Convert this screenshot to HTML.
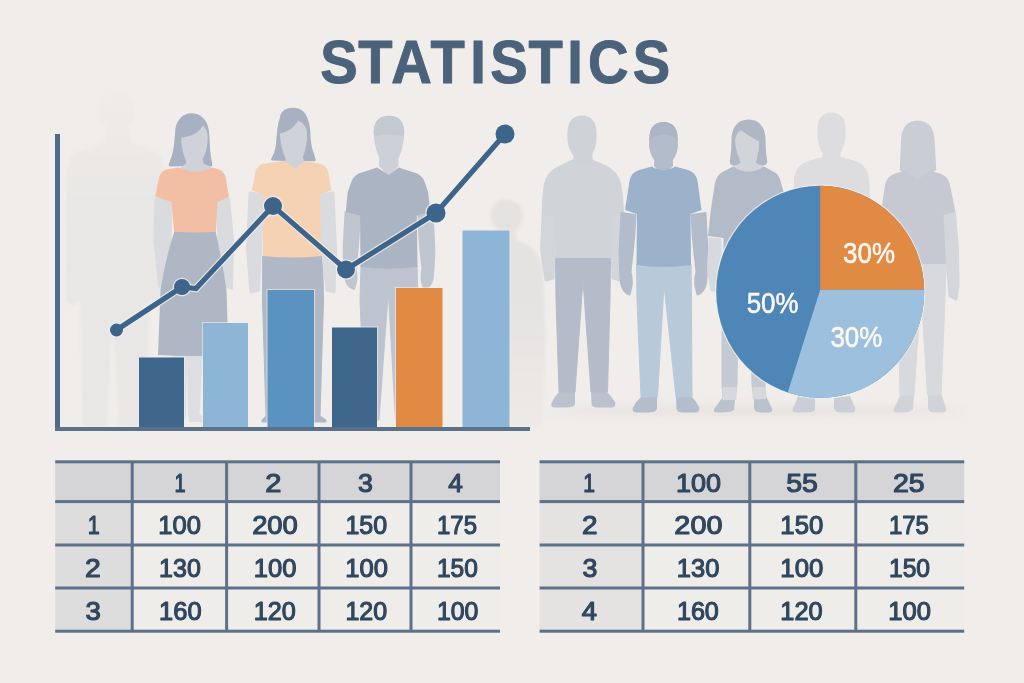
<!DOCTYPE html>
<html lang="en">
<head>
<meta charset="utf-8">
<title>Statistics</title>
<style>
html,body{margin:0;padding:0;background:#f0edea;}
body{width:1024px;height:683px;overflow:hidden;font-family:"Liberation Sans",sans-serif;}
svg{display:block;}
.t{font-family:"Liberation Sans",sans-serif;font-weight:700;font-size:61px;fill:#4b627b;stroke:#4b627b;stroke-width:1px;stroke-linejoin:round;}
.n{font-family:"Liberation Sans",sans-serif;font-size:26.6px;fill:#30475f;stroke:#30475f;stroke-width:1.2px;stroke-linejoin:round;text-anchor:start;}
.p{font-family:"Liberation Sans",sans-serif;font-size:28.8px;fill:#fcf8f2;stroke:#fcf8f2;stroke-width:.55px;text-anchor:middle;}
</style>
</head>
<body>
<svg width="1024" height="683" viewBox="0 0 1024 683">
<rect width="1024" height="683" fill="#f0edea"/>

<g id="left-people">
<defs><filter id="b1" x="-5%" y="-5%" width="110%" height="110%"><feGaussianBlur stdDeviation="0.55"/></filter><filter id="b3" x="-20%" y="-20%" width="140%" height="140%"><feGaussianBlur stdDeviation="1.4"/></filter><filter id="b6" x="-20%" y="-60%" width="140%" height="220%"><feGaussianBlur stdDeviation="4"/></filter></defs>
<ellipse cx="755" cy="411" rx="210" ry="6" fill="#e7e4e1" filter="url(#b6)"/>
<g filter="url(#b3)">
<linearGradient id="fg" gradientUnits="userSpaceOnUse" x1="0" y1="95" x2="0" y2="200"><stop offset="0" stop-color="#eeebe8"/><stop offset="1" stop-color="#e9e7e5"/></linearGradient>
<ellipse cx="117" cy="112" rx="17" ry="19" fill="url(#fg)"/>
<path d="M106,128 L128,128 L130,143 L158,153 Q164,158 165,176 L168,300 L158,306 L150,300 L147,426 L119,426 L113,320 L107,426 L82,426 L80,300 L74,306 L65,300 L67,176 Q68,158 74,153 L104,143 Z" fill="url(#fg)"/>
<linearGradient id="fg5" gradientUnits="userSpaceOnUse" x1="0" y1="300" x2="0" y2="425"><stop offset="0" stop-color="#e5e3e2"/><stop offset="1" stop-color="#ece9e6"/></linearGradient>
<ellipse cx="506.5" cy="216" rx="16.5" ry="16.5" fill="#e5e3e2"/>
<path d="M498,228 L515,228 L517,240 Q538,246 543,270 L546,340 L542,426 L480,426 L474,270 Q478,246 496,240 Z" fill="url(#fg5)"/>
</g>
<g filter="url(#b1)">
<path d="M173.0,350.0 L186.0,350.0 L185.0,418.0 L176.0,418.0Z" fill="#dcdee1" stroke="#dcdee1" stroke-width="2" stroke-linejoin="round"/>
<path d="M188.0,350.0 L202.0,350.0 L198.5,414.0 L203.0,419.5 L203.0,421.0 L190.0,421.0 L189.0,414.0Z" fill="#dcdee1" stroke="#dcdee1" stroke-width="2" stroke-linejoin="round"/>
<path d="M156.0,199.0 L171.0,201.0 L170.0,240.0 L167.0,284.0 L159.5,286.0 L155.0,240.0Z" fill="#d9dbdf" stroke="#d9dbdf" stroke-width="3.0" stroke-linejoin="round"/>
<path d="M228.5,199.0 L217.5,201.0 L219.0,240.0 L224.0,286.0 L231.5,288.0 L232.5,240.0Z" fill="#d9dbdf" stroke="#d9dbdf" stroke-width="3.0" stroke-linejoin="round"/>
<path d="M174.5,231 L215.5,231 Q222,260 226.5,290 L228.5,355 Q193,357 158,355 L160.5,290 Q165,260 174.5,231 Z" fill="#b0b7c4"/>
<path d="M191.4,113.3 C183,113.3 176.5,120 175.3,129.4 C174.5,140 174,150 171.4,157 L168.8,164 Q168.3,166.8 171,166.6 L185,166 L200,164 L210,166.5 Q212.8,167 212.3,164.5 L211,157 C209.5,148 210,138 208.7,129.4 C207,119 200,113.3 191.4,113.3 Z" fill="#a8b1c1"/>
<path d="M181.2,137.5 C190,137 199,133 202.8,125.5 C206,128 207.7,132 207.7,137 C207.7,146 206,153 202.8,159 L203.5,163.5 L212,168 L196,176 L180,168 L186,163.5 L186.1,160.8 C183,154 181.5,147 181.2,137.5 Z" fill="#cfd3d9"/>
<path d="M179,167.6 Q196,176 212.5,167.6 L219,169.5 Q224.5,171.5 225.8,178 L229,197 L217.5,202 L216,231.8 Q195,233 174,231.8 L171.5,202 L155.3,196.5 L159,178 Q160.5,171.5 166,169.5 Z" fill="#f2bfa5"/>
<path d="M262.7,256.0 L322.5,256.0 L323.5,300.0 L320.0,416.0 L326.0,420.0 L326.0,422.0 L262.0,422.0 L262.0,420.0 L266.0,416.0 L262.5,300.0Z" fill="#b0b7c5" stroke="#b0b7c5" stroke-width="1.0" stroke-linejoin="round"/>
<path d="M250.0,193.0 L262.7,195.0 L260.5,250.0 L258.5,290.0 L251.0,292.0 L247.5,250.0Z" fill="#d9dbdf" stroke="#d9dbdf" stroke-width="3.0" stroke-linejoin="round"/>
<path d="M333.0,193.0 L320.0,195.0 L322.5,250.0 L327.0,290.0 L334.0,292.0 L335.5,250.0Z" fill="#d9dbdf" stroke="#d9dbdf" stroke-width="3.0" stroke-linejoin="round"/>
<path d="M293,107.8 C286,107.8 281,111 280,117 C277.5,124 277,132 276.4,139.3 C276,146 275,150 274,153 L271.3,158.5 Q270.5,160.5 273,160.5 L286,161 L302,161 L313.5,161.3 Q316.3,161.5 315.7,159.5 L313.7,153 C311,146 311,140 310.7,139.3 C310.5,132 310.3,124 306.5,116 C304,110.5 299,107.8 293,107.8 Z" fill="#a8b1c1"/>
<path d="M279.8,133.6 C288,132 294.5,127.5 298,120.6 C303,123 306.5,127 306.8,131.4 C307.3,138 306.8,143 305.8,147.1 C305,151 304,154.5 302.9,156.9 L303.5,160.5 L306,162 L295,172 L283,162 L285.5,160.5 L285.2,157.9 C282.5,151 280.5,144 279.8,133.6 Z" fill="#cfd3d9"/>
<path d="M284.5,160.8 L295,168.8 L304.5,160.8 L320,163.8 Q326.5,165.5 328,171 L331.5,190.3 L319.6,194.5 L322,256 Q292,259 262.7,256 L263,194.5 L251.9,190.3 L255.5,171 Q257,165.5 263.5,163.8 Z" fill="#f6d2b4"/>
<path d="M361.0,266.0 L417.0,266.0 L418.0,300.0 L413.0,420.0 L395.5,420.0 L388.3,292.0 L379.0,420.0 L365.0,420.0 L360.0,300.0Z" fill="#bdc4cf" stroke="#bdc4cf" stroke-width="1.0" stroke-linejoin="round"/>
<path d="M345.5,212 L359.5,214 Q359,240 356.5,260 L355.5,268 Q357,276 356,282 L354,289 Q347,287 345.3,278 Q343.3,258 343.8,245 Z" fill="#c0c6cf" stroke="#c0c6cf" stroke-width="2" stroke-linejoin="round"/>
<path d="M432.5,212 L418.5,214 Q419,240 421.5,260 L422.5,268 Q421,276 422,282 L424,289 Q431,287 432.7,278 Q434.7,258 434.2,245 Z" fill="#c0c6cf" stroke="#c0c6cf" stroke-width="2" stroke-linejoin="round"/>
<path d="M379.5,150 L398,150 L398.5,166 L389,177 L379,166 Z" fill="#cdd0d6"/>
<path d="M377.1,167.5 L388.9,175 L398.7,167.5 L416.4,173.3 Q422.5,176 424.5,181.5 L428.1,192.2 L430.5,212 L416.8,215.5 L417.5,267 Q389,270 360.5,267 L360,215.5 L345.8,212 L347.7,192.2 L351.5,181.5 Q353.5,176 359.4,173.3 Z" fill="#abb4c3"/>
<path d="M389,115.7 Q374.5,116 373.8,131 L374.2,140 Q375.5,149 378.5,156 Q383,165 389,165.5 Q395,165 399.5,156 Q402.5,149 403.8,140 L404.2,131 Q403.5,116 389,115.7 Z" fill="#cdd0d6"/>
<path d="M389,115.7 Q374.5,116 373.8,131 L374,136.5 Q381,134 389,134.5 Q397,134 404,136.5 L404.2,131 Q403.5,116 389,115.7 Z" fill="#c5c9d0"/>
</g>
</g>
<g id="right-people">
<g filter="url(#b1)">
<path d="M559,388 L575,388 L575,404 Q574,407.5 566,407.5 L554,407.5 Q550,407 552,402 Q555,396 559,392 Z" fill="#bbc1cd"/>
<path d="M591,388 L607,388 L607,392 Q612,397 615,402 Q616.5,407 612,407.5 L598,407.5 Q592,407.5 591.5,404 Z" fill="#bbc1cd"/>
<path d="M555.5,257.0 L610.5,257.0 L610.0,300.0 L607.5,392.0 L591.0,392.0 L583.0,280.0 L575.0,392.0 L559.0,392.0 L556.0,300.0Z" fill="#b5bcc9" stroke="#b5bcc9" stroke-width="1.0" stroke-linejoin="round"/>
<path d="M543.5,208.0 L554.0,209.0 L554.0,250.0 L553.0,278.0 L546.0,280.0 L541.5,250.0Z" fill="#d2d5da" stroke="#d2d5da" stroke-width="3.0" stroke-linejoin="round"/>
<path d="M622.5,208.0 L612.0,209.0 L612.0,250.0 L613.0,278.0 L620.0,280.0 L624.5,250.0Z" fill="#d2d5da" stroke="#d2d5da" stroke-width="3.0" stroke-linejoin="round"/>
<path d="M572.5,159.5 L592.5,159.5 L606.5,165.7 Q613,169 616.4,173.6 Q620,178 621.3,184.4 L623.2,198 L624,215 L611.5,216 L611,258 L555.5,258 L554.5,216 L541.8,215 L542.2,198 L543.7,184.4 Q545,178 548.6,173.6 Q552,169 559.4,165.7 Z" fill="#d0d3d8"/>
<rect x="573.5" y="145" width="19" height="20" rx="0" fill="#cfd2d7"/>
<path d="M582,115.5 Q568,116 567.5,132 L567.5,140 Q568.5,152 575,157 Q582,161 589,157 Q595.5,152 596.5,140 L596.5,132 Q596,116 582,115.5 Z" fill="#cfd2d7"/>
<path d="M641,394 L657,394 L657,409 Q656,412.5 648,412.5 L636,412.5 Q631.5,412 633,407.5 Q636,401 641,397 Z" fill="#b4bdcc"/>
<path d="M676,394 L692,394 L692,397 Q697,402 699,407.5 Q700,412 696,412.5 L683,412.5 Q677,412.5 676.5,409 Z" fill="#b4bdcc"/>
<path d="M636.5,264.0 L691.0,264.0 L691.5,300.0 L692.0,397.0 L676.0,397.0 L664.0,285.0 L657.5,397.0 L641.0,397.0 L637.0,300.0Z" fill="#b8c9da" stroke="#b8c9da" stroke-width="1.0" stroke-linejoin="round"/>
<path d="M621.5,213 L635.5,215 Q634.5,240 631.5,262 L630.5,272 Q632.5,280 631.5,286 L629.5,294.5 Q622.5,292 620.8,282 Q619.3,262 619.8,247 Z" fill="#b2bccb" stroke="#b2bccb" stroke-width="2" stroke-linejoin="round"/>
<path d="M705.5,213 L691.5,215 Q692.5,240 695.5,262 L696.5,272 Q694.5,280 695.5,286 L697.5,294.5 Q704.5,292 706.2,282 Q707.7,262 707.2,247 Z" fill="#b2bccb" stroke="#b2bccb" stroke-width="2" stroke-linejoin="round"/>
<path d="M655,150 L672.5,150 L673,166 L663.5,176 L654,166 Z" fill="#b3bccb"/>
<path d="M652,166.5 Q663.5,174 675,166.5 L688,170 Q696,172.5 697.5,181 L701.5,210 L690.5,214 L691,265 Q663,269 636.5,265 L637,214 L625,210 L629.5,181 Q631,172.5 639,170 Z" fill="#9cb1ca"/>
<path d="M663.5,122 Q650,122.5 649.5,137 L649,146 Q650.5,158 657,163 Q663.5,166.5 670,163 Q676.5,158 678,146 L677.5,137 Q677,122.5 663.5,122 Z" fill="#b3bccb"/>
<path d="M663.5,122 Q650,122.5 649.5,137 L649.3,142 Q652,135 663.5,134.5 Q675,135 677.7,142 L677.5,137 Q677,122.5 663.5,122 Z" fill="#abb5c5"/>
<path d="M722,398 L735,400 L734,410 Q730,412.5 722,412.5 L716,412.5 Q712.5,412 714.5,408.5 Q718,404 722,398 Z" fill="#bbc1cd"/>
<path d="M754,398 L766,396 Q770,404 772,408.5 Q773,412 769,412.5 L760,412.5 Q754.5,412 754,408 Z" fill="#bbc1cd"/>
<path d="M722.0,300.0 L738.0,300.0 L737.0,385.0 L735.0,400.0 L723.0,400.0 L722.0,385.0Z" fill="#c4c9d2" stroke="#c4c9d2" stroke-width="1.0" stroke-linejoin="round"/>
<path d="M750.0,300.0 L766.0,300.0 L765.0,385.0 L766.0,398.0 L754.0,400.0 L752.0,385.0Z" fill="#c4c9d2" stroke="#c4c9d2" stroke-width="1.0" stroke-linejoin="round"/>
<rect x="722.5" y="387" width="14" height="13" rx="0" fill="#d6d8dc"/>
<rect x="752.5" y="387" width="13.5" height="12" rx="0" fill="#d6d8dc"/>
<path d="M710.0,239.0 L720.0,240.0 L720.0,270.0 L718.0,290.0 L712.0,290.0 L708.5,270.0Z" fill="#d6d9dd" stroke="#d6d9dd" stroke-width="3.0" stroke-linejoin="round"/>
<path d="M748.5,119.5 Q733,120 731.5,138 Q731.5,152 729.8,161 Q729.5,165 733.5,165.5 L763.5,165.5 Q767.5,165 767.2,161 Q765.5,152 765.5,138 Q764,120 748.5,119.5 Z" fill="#afb6c4"/>
<path d="M735,140 Q737,131 741,130.5 Q749,136 759,141.5 Q759.5,150 757,158 L756,163 L765,167 L748.5,176 L732,167 L740.5,163 L739,158 Q735.5,150 735,140 Z" fill="#d1d4d9"/>
<path d="M733,166.5 Q748.5,177 764,166.5 L776.5,173.6 Q780,177 781.4,184.4 L784.4,194.2 L789.5,236 L778,238 L778,330 L724,330 L723.5,238 L708,236 L710.8,210 L714.7,184.4 Q716.5,176 721.6,172.6 Z" fill="#b4bbc8"/>
</g>
<g filter="url(#b1)">
<path d="M798,396 L815,398 L815,410 Q813,412.5 806,412.5 L796,412.5 Q791,412 793,408 Q796,403 798,396 Z" fill="#cbcfd5"/>
<path d="M834,398 L850,396 Q853,403 855,408 Q856,412 852,412.5 L840,412.5 Q834.5,412 834,408 Z" fill="#cbcfd5"/>
<path d="M822,157 L841,157 L855,161 Q867,165 869,178 L872,240 L794,240 L794,178 Q796,165 808,161 Z" fill="#dddddf"/>
<rect x="822.5" y="145" width="18" height="16" rx="0" fill="#dddddf"/>
<path d="M831.5,112.5 Q818,113 817.5,128 L817.5,137 Q818.5,150 825,155 Q831.5,158.5 838,155 Q844.5,150 845.5,137 L845.5,128 Q845,113 831.5,112.5 Z" fill="#dddddf"/>
<path d="M901,393 L914,395 L913,409 Q910,412.5 903,412.5 L897,412.5 Q892,412 894,408 Q898,402 901,393 Z" fill="#d0d3d8"/>
<path d="M928,395 L941,393 Q944,402 946,408 Q947,412 943,412.5 L933,412.5 Q928.5,412 928,408 Z" fill="#d0d3d8"/>
<path d="M897.0,262.0 L946.0,262.0 L945.0,300.0 L941.0,395.0 L927.5,395.0 L921.0,290.0 L914.0,395.0 L900.0,395.0 L898.0,300.0Z" fill="#d8d9dd" stroke="#d8d9dd" stroke-width="1.0" stroke-linejoin="round"/>
<path d="M943.0,215.0 L954.5,213.0 L957.5,250.0 L958.0,285.0 L956.0,299.0 L950.0,296.0 L946.0,250.0Z" fill="#d4d6db" stroke="#d4d6db" stroke-width="3.0" stroke-linejoin="round"/>
<path d="M917.5,120.5 Q902,121 901,140 L899.8,170 L903,173 L917.5,184 L932,173 L936.3,170 L934.5,140 Q933.5,121 917.5,120.5 Z" fill="#cacdd3"/>
<path d="M905,171 L917.5,180.3 L930,171 L940,173.5 Q948,176 950,185 L955.5,212 L943.5,215 L946,264 L896,264 L894,215 L881,212 L885,185 Q887,176 895,173.5 Z" fill="#c6c9d1"/>
</g>
</g>
<text transform="scale(0.92,1)" x="348.1 389.4 425.3 468.0 511.2 532.9 574.4 616.5 639.2 687.7" y="82.8" class="t">STATISTICS</text>
<g opacity="0.6">
<rect x="138" y="356.5" width="47" height="71.5" fill="#f2efec"/>
<rect x="202" y="322" width="47" height="106" fill="#f2efec"/>
<rect x="266.5" y="289" width="48.5" height="139" fill="#f2efec"/>
<rect x="331" y="326.5" width="47" height="101.5" fill="#f2efec"/>
<rect x="395" y="287" width="48.5" height="141" fill="#f2efec"/>
<rect x="461.5" y="229.5" width="49.0" height="198.5" fill="#f2efec"/>
</g>
<rect x="139" y="357.5" width="45" height="70.5" fill="#3f678c"/>
<rect x="203" y="323" width="45" height="105" fill="#8cb5d6"/>
<rect x="267.5" y="290" width="46.5" height="138" fill="#5b93c0"/>
<rect x="332" y="327.5" width="45" height="100.5" fill="#3f678c"/>
<rect x="396" y="288" width="46.5" height="140" fill="#e08a43"/>
<rect x="462.5" y="230.5" width="47.0" height="197.5" fill="#8cb5d6"/>
<rect x="55" y="134" width="5" height="297" fill="#4d6a89"/>
<rect x="55" y="427" width="475" height="4" fill="#5b7089"/>
<g opacity="0.8">
<polyline points="116.5,330 182,287 196,288.5 273,206 346,269.5 436,213 505,134" fill="none" stroke="#f2efec" stroke-width="7.6" stroke-linejoin="miter"/>
<circle cx="116.5" cy="330" r="7.8" fill="#f2efec"/>
<circle cx="182" cy="287" r="9.3" fill="#f2efec"/>
<circle cx="273" cy="206" r="10.3" fill="#f2efec"/>
<circle cx="346" cy="269.5" r="10.3" fill="#f2efec"/>
<circle cx="436" cy="213" r="10.8" fill="#f2efec"/>
<circle cx="505" cy="134" r="10.8" fill="#f2efec"/>
</g>
<polyline points="116.5,330 182,287 196,288.5 273,206 346,269.5 436,213 505,134" fill="none" stroke="#3d648a" stroke-width="5.2" stroke-linejoin="miter"/>
<circle cx="116.5" cy="330" r="6.5" fill="#3d648a"/>
<circle cx="182" cy="287" r="8" fill="#3d648a"/>
<circle cx="273" cy="206" r="9" fill="#3d648a"/>
<circle cx="346" cy="269.5" r="9" fill="#3d648a"/>
<circle cx="436" cy="213" r="9.5" fill="#3d648a"/>
<circle cx="505" cy="134" r="9.5" fill="#3d648a"/>
<ellipse cx="820.2" cy="291.8" rx="105.2" ry="107.2" fill="#f2efec" opacity="0.8"/>
<ellipse cx="820.2" cy="291.8" rx="104" ry="106" fill="#4e87b7"/>
<path d="M820.2,289.8 L820.2,185.8 A104,106 0 0 1 924.2,289.8 Z" fill="#e08a44"/>
<path d="M820.2,289.8 L924.2,289.8 A104,106 0 0 1 787.7,392.5 Z" fill="#9cc0de"/>
<text transform="translate(869,262.5) scale(0.9,1)" x="0" y="0" class="p">30%</text>
<text transform="translate(856.3,346.5) scale(0.9,1)" x="0" y="0" class="p">30%</text>
<text transform="translate(772.6,312.5) scale(0.9,1)" x="0" y="0" class="p">50%</text>
<rect x="55.2" y="461.8" width="444.8" height="169.40000000000003" fill="#efedea"/>
<rect x="55.2" y="501.6" width="76.99999999999999" height="129.60000000000002" fill="#dedddd"/>
<rect x="55.2" y="461.8" width="444.8" height="39.80000000000001" fill="#d5d5d8"/>
<rect x="55.2" y="460.3" width="444.8" height="3" fill="#5d7189"/>
<rect x="55.2" y="500.1" width="444.8" height="3" fill="#5d7189"/>
<rect x="55.2" y="543.5" width="444.8" height="3" fill="#5d7189"/>
<rect x="55.2" y="586.5" width="444.8" height="3" fill="#5d7189"/>
<rect x="55.2" y="629.7" width="444.8" height="3" fill="#5d7189"/>
<rect x="130.7" y="461.8" width="3" height="169.40000000000003" fill="#5d7189"/>
<rect x="225.1" y="461.8" width="3" height="169.40000000000003" fill="#5d7189"/>
<rect x="317.5" y="461.8" width="3" height="169.40000000000003" fill="#5d7189"/>
<rect x="409.5" y="461.8" width="3" height="169.40000000000003" fill="#5d7189"/>
<text transform="translate(174.48,491.8) scale(0.750,1)" x="0" y="0" class="n">1</text>
<text transform="translate(265.34,491.8) scale(1.096,1)" x="0" y="0" class="n">2</text>
<text transform="translate(357.98,491.8) scale(1.007,1)" x="0" y="0" class="n">3</text>
<text transform="translate(448.30,491.8) scale(0.985,1)" x="0" y="0" class="n">4</text>
<text transform="translate(87.66,534.3) scale(0.811,1)" x="0" y="0" class="n">1</text>
<text transform="translate(158.26,534.3) scale(0.961,1)" x="0" y="0" class="n">100</text>
<text transform="translate(252.13,534.3) scale(1.031,1)" x="0" y="0" class="n">200</text>
<text transform="translate(345.40,534.3) scale(0.941,1)" x="0" y="0" class="n">150</text>
<text transform="translate(436.98,534.3) scale(0.902,1)" x="0" y="0" class="n">175</text>
<text transform="translate(85.09,577.1) scale(1.064,1)" x="0" y="0" class="n">2</text>
<text transform="translate(159.10,577.1) scale(0.941,1)" x="0" y="0" class="n">130</text>
<text transform="translate(253.76,577.1) scale(0.961,1)" x="0" y="0" class="n">100</text>
<text transform="translate(345.36,577.1) scale(0.961,1)" x="0" y="0" class="n">100</text>
<text transform="translate(436.94,577.1) scale(0.922,1)" x="0" y="0" class="n">150</text>
<text transform="translate(85.45,620.0) scale(1.039,1)" x="0" y="0" class="n">3</text>
<text transform="translate(159.06,620.0) scale(0.958,1)" x="0" y="0" class="n">160</text>
<text transform="translate(253.78,620.0) scale(0.949,1)" x="0" y="0" class="n">120</text>
<text transform="translate(345.40,620.0) scale(0.941,1)" x="0" y="0" class="n">120</text>
<text transform="translate(436.91,620.0) scale(0.934,1)" x="0" y="0" class="n">100</text>
<rect x="539.6" y="461.8" width="424.6" height="169.40000000000003" fill="#efedea"/>
<rect x="539.6" y="501.6" width="103.39999999999998" height="129.60000000000002" fill="#e4e3e2"/>
<rect x="539.6" y="461.8" width="424.6" height="39.80000000000001" fill="#d5d5d8"/>
<rect x="539.6" y="460.3" width="424.6" height="3" fill="#5d7189"/>
<rect x="539.6" y="500.1" width="424.6" height="3" fill="#5d7189"/>
<rect x="539.6" y="543.5" width="424.6" height="3" fill="#5d7189"/>
<rect x="539.6" y="586.5" width="424.6" height="3" fill="#5d7189"/>
<rect x="539.6" y="629.7" width="424.6" height="3" fill="#5d7189"/>
<rect x="641.5" y="461.8" width="3" height="169.40000000000003" fill="#5d7189"/>
<rect x="748.3" y="461.8" width="3" height="169.40000000000003" fill="#5d7189"/>
<rect x="854.3" y="461.8" width="3" height="169.40000000000003" fill="#5d7189"/>
<text transform="translate(583.20,491.8) scale(0.794,1)" x="0" y="0" class="n">1</text>
<text transform="translate(675.95,491.8) scale(1.014,1)" x="0" y="0" class="n">100</text>
<text transform="translate(786.16,491.8) scale(1.073,1)" x="0" y="0" class="n">55</text>
<text transform="translate(892.97,491.8) scale(1.072,1)" x="0" y="0" class="n">25</text>
<text transform="translate(582.01,534.3) scale(1.047,1)" x="0" y="0" class="n">2</text>
<text transform="translate(674.36,534.3) scale(1.083,1)" x="0" y="0" class="n">200</text>
<text transform="translate(780.34,534.3) scale(0.968,1)" x="0" y="0" class="n">150</text>
<text transform="translate(888.98,534.3) scale(0.900,1)" x="0" y="0" class="n">175</text>
<text transform="translate(582.38,577.1) scale(1.007,1)" x="0" y="0" class="n">3</text>
<text transform="translate(676.86,577.1) scale(0.961,1)" x="0" y="0" class="n">130</text>
<text transform="translate(780.34,577.1) scale(0.968,1)" x="0" y="0" class="n">100</text>
<text transform="translate(888.93,577.1) scale(0.927,1)" x="0" y="0" class="n">150</text>
<text transform="translate(581.67,620.0) scale(1.029,1)" x="0" y="0" class="n">4</text>
<text transform="translate(676.89,620.0) scale(0.946,1)" x="0" y="0" class="n">160</text>
<text transform="translate(780.37,620.0) scale(0.954,1)" x="0" y="0" class="n">120</text>
<text transform="translate(888.26,620.0) scale(0.961,1)" x="0" y="0" class="n">100</text>
</svg>
</body>
</html>
